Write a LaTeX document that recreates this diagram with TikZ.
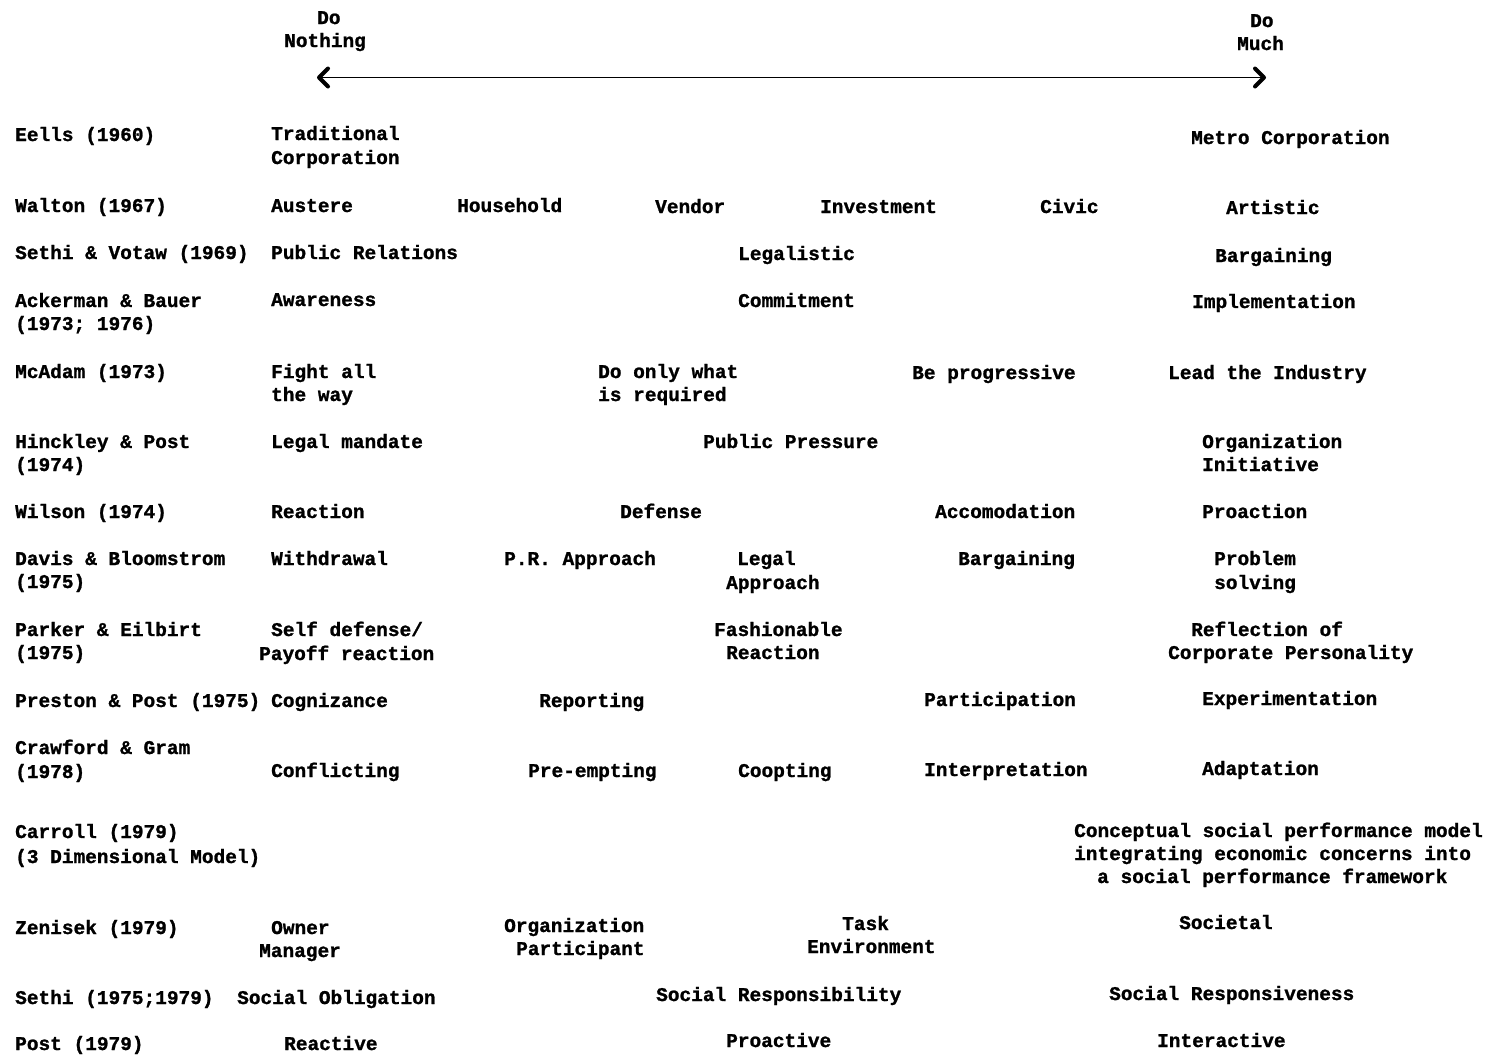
\documentclass[tikz,border=0pt]{standalone}
\usepackage{fontspec}
\newfontfamily\typew{Liberation Mono Bold}[FakeBold=1.2]
\usetikzlibrary{arrows.meta}
\begin{document}
\begin{tikzpicture}[x=1pt,y=-1pt,
  txt/.style={anchor=base west, inner sep=0pt, font=\typew\fontsize{19.45}{23}\selectfont},
  chev/.tip={Straight Barb[length=9pt,width=18pt,line width=4pt,round]},
  scale arrow/.style={line width=1.6pt, chev-chev}]
\useasboundingbox (0,0) rectangle (1485,1055);

% scale heading
\node[txt] (dn1) at (317,24) {Do};
\node[txt] (dn2) at (284,47) {Nothing};
\node[txt] (dm1) at (1250,27) {Do};
\node[txt] (dm2) at (1237,50) {Much};
\coordinate (scaleL) at (317,77.5);
\coordinate (scaleR) at (1266,77.5);
\draw[scale arrow] (scaleL) -- (scaleR);

% Eells
\node[txt] (eells) at (15,141) {Eells (1960)};
\node[txt] (eellsA1) at (271,140) {Traditional};
\node[txt] (eellsA2) at (271,164) {Corporation};
\node[txt] (eellsB) at (1191,144) {Metro Corporation};

% Walton
\node[txt] (walton) at (15,212) {Walton (1967)};
\node[txt] (waltonA) at (271,212) {Austere};
\node[txt] (waltonB) at (457,212) {Household};
\node[txt] (waltonC) at (655,213) {Vendor};
\node[txt] (waltonD) at (820,213) {Investment};
\node[txt] (waltonE) at (1040,213) {Civic};
\node[txt] (waltonF) at (1226,214) {Artistic};

% Sethi & Votaw
\node[txt] (sv) at (15,259) {Sethi \& Votaw (1969)};
\node[txt] (svA) at (271,259) {Public Relations};
\node[txt] (svB) at (738,260) {Legalistic};
\node[txt] (svC) at (1215,262) {Bargaining};

% Ackerman & Bauer
\node[txt] (ab1) at (15,307) {Ackerman \& Bauer};
\node[txt] (ab2) at (15,330) {(1973; 1976)};
\node[txt] (abA) at (271,306) {Awareness};
\node[txt] (abB) at (738,307) {Commitment};
\node[txt] (abC) at (1192,308) {Implementation};

% McAdam
\node[txt] (mc) at (15,378) {McAdam (1973)};
\node[txt] (mcA1) at (271,378) {Fight all};
\node[txt] (mcA2) at (271,401) {the way};
\node[txt] (mcB1) at (598,378) {Do only what};
\node[txt] (mcB2) at (598,401) {is required};
\node[txt] (mcC) at (912,379) {Be progressive};
\node[txt] (mcD) at (1168,379) {Lead the Industry};

% Hinckley & Post
\node[txt] (hp1) at (15,448) {Hinckley \& Post};
\node[txt] (hp2) at (15,471) {(1974)};
\node[txt] (hpA) at (271,448) {Legal mandate};
\node[txt] (hpB) at (703,448) {Public Pressure};
\node[txt] (hpC1) at (1202,448) {Organization};
\node[txt] (hpC2) at (1202,471) {Initiative};

% Wilson
\node[txt] (wi) at (15,518) {Wilson (1974)};
\node[txt] (wiA) at (271,518) {Reaction};
\node[txt] (wiB) at (620,518) {Defense};
\node[txt] (wiC) at (935,518) {Accomodation};
\node[txt] (wiD) at (1202,518) {Proaction};

% Davis & Bloomstrom
\node[txt] (db1) at (15,565) {Davis \& Bloomstrom};
\node[txt] (db2) at (15,588) {(1975)};
\node[txt] (dbA) at (271,565) {Withdrawal};
\node[txt] (dbB) at (504,565) {P.R. Approach};
\node[txt] (dbC1) at (737,565) {Legal};
\node[txt] (dbC2) at (726,589) {Approach};
\node[txt] (dbD) at (958,565) {Bargaining};
\node[txt] (dbE1) at (1214,565) {Problem};
\node[txt] (dbE2) at (1214,589) {solving};

% Parker & Eilbirt
\node[txt] (pe1) at (15,636) {Parker \& Eilbirt};
\node[txt] (pe2) at (15,659) {(1975)};
\node[txt] (peA1) at (271,636) {Self defense/};
\node[txt] (peA2) at (259,660) {Payoff reaction};
\node[txt] (peB1) at (714,636) {Fashionable};
\node[txt] (peB2) at (726,659) {Reaction};
\node[txt] (peC1) at (1191,636) {Reflection of};
\node[txt] (peC2) at (1168,659) {Corporate Personality};

% Preston & Post
\node[txt] (pp) at (15,707) {Preston \& Post (1975)};
\node[txt] (ppA) at (271,707) {Cognizance};
\node[txt] (ppB) at (539,707) {Reporting};
\node[txt] (ppC) at (924,706) {Participation};
\node[txt] (ppD) at (1202,705) {Experimentation};

% Crawford & Gram
\node[txt] (cg1) at (15,754) {Crawford \& Gram};
\node[txt] (cg2) at (15,778) {(1978)};
\node[txt] (cgA) at (271,777) {Conflicting};
\node[txt] (cgB) at (528,777) {Pre-empting};
\node[txt] (cgC) at (738,777) {Coopting};
\node[txt] (cgD) at (924,776) {Interpretation};
\node[txt] (cgE) at (1202,775) {Adaptation};

% Carroll
\node[txt] (ca1) at (15,838) {Carroll (1979)};
\node[txt] (ca2) at (15,863) {(3 Dimensional Model)};
\node[txt] (caA1) at (1074,837) {Conceptual social performance model};
\node[txt] (caA2) at (1074,860) {integrating economic concerns into};
\node[txt] (caA3) at (1097,883) {a social performance framework};

% Zenisek
\node[txt] (ze) at (15,934) {Zenisek (1979)};
\node[txt] (zeA1) at (271,934) {Owner};
\node[txt] (zeA2) at (259,957) {Manager};
\node[txt] (zeB1) at (504,932) {Organization};
\node[txt] (zeB2) at (516,955) {Participant};
\node[txt] (zeC1) at (842,930) {Task};
\node[txt] (zeC2) at (807,953) {Environment};
\node[txt] (zeD) at (1179,929) {Societal};

% Sethi
\node[txt] (se) at (15,1004) {Sethi (1975;1979)};
\node[txt] (seA) at (237,1004) {Social Obligation};
\node[txt] (seB) at (656,1001) {Social Responsibility};
\node[txt] (seC) at (1109,1000) {Social Responsiveness};

% Post
\node[txt] (po) at (15,1050) {Post (1979)};
\node[txt] (poA) at (284,1050) {Reactive};
\node[txt] (poB) at (726,1047) {Proactive};
\node[txt] (poC) at (1157,1047) {Interactive};
\end{tikzpicture}
\end{document}
